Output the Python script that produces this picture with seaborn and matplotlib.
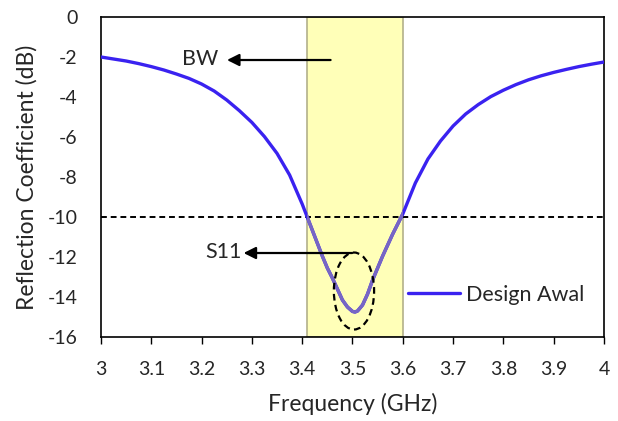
import numpy as np
import pandas as pd
import matplotlib.pyplot as plt
import seaborn as sns
from matplotlib.patches import Rectangle, Ellipse

freq = [3.0, 3.025, 3.05, 3.075, 3.1, 3.125, 3.15, 3.175, 3.2, 3.225, 3.25,
        3.275, 3.3, 3.325, 3.35, 3.375, 3.4, 3.41, 3.42, 3.43, 3.44, 3.45,
        3.46, 3.47, 3.48, 3.49, 3.5, 3.505, 3.51, 3.52, 3.53, 3.54, 3.55,
        3.56, 3.57, 3.58, 3.59, 3.6, 3.625, 3.65, 3.675, 3.7, 3.725, 3.75,
        3.775, 3.8, 3.825, 3.85, 3.875, 3.9, 3.925, 3.95, 3.975, 4.0]
s11 = [-2.0, -2.1, -2.2, -2.33, -2.48, -2.65, -2.85, -3.07, -3.35, -3.7,
       -4.15, -4.68, -5.27, -5.98, -6.82, -7.9, -9.35, -10.0, -10.65, -11.3,
       -11.95, -12.55, -13.05, -13.6, -14.15, -14.5, -14.72, -14.75, -14.7,
       -14.4, -13.85, -13.15, -12.55, -11.95, -11.4, -10.85, -10.35, -9.85,
       -8.3, -7.1, -6.2, -5.45, -4.85, -4.38, -3.98, -3.66, -3.38, -3.14,
       -2.94, -2.77, -2.62, -2.48, -2.36, -2.25]
bw_band = [3.41, 3.60]
ref_level = -10
xticks = [3, 3.1, 3.2, 3.3, 3.4, 3.5, 3.6, 3.7, 3.8, 3.9, 4]
yticks = [0, -2, -4, -6, -8, -10, -12, -14, -16]

df = pd.DataFrame({"Frequency": freq, "S11": s11})

sns.set_style("white")
plt.rcParams['font.family'] = ['Lato', 'DejaVu Sans']

fig = plt.figure(figsize=(6.18, 4.21), dpi=100)
ax = fig.add_axes([0.1634, 0.1995, 0.8139, 0.7601])

rect = Rectangle((bw_band[0], -16), bw_band[1] - bw_band[0], 16,
                 facecolor='#FFFFB8', edgecolor='#B3B08A', lw=1.2, zorder=1)
ax.add_patch(rect)

sns.lineplot(data=df, x="Frequency", y="S11", ax=ax, color='#3A22F0',
             lw=2.4, label="Design Awal", zorder=3)
# purple-ish tone of the curve where it sits under the yellow band
inner, = ax.plot(freq, s11, color='#7766C4', lw=2.4, zorder=4)
inner.set_clip_path(rect)

ax.axhline(ref_level, color='black', ls=(0, (3, 2)), lw=1.4, zorder=2)

ax.add_patch(Ellipse((3.503, -13.7), 0.08, 3.85, fill=False,
                     edgecolor='black', ls=(0, (3, 2)), lw=1.6, zorder=5))

ax.annotate("", xy=(3.245, -2.15), xytext=(3.462, -2.15),
            arrowprops=dict(arrowstyle='-|>', color='black', lw=1.6,
                            mutation_scale=18), zorder=6)
ax.text(3.234, -2.1, "BW", ha='right', va='center', fontsize=15.5)
ax.annotate("", xy=(3.278, -11.8), xytext=(3.505, -11.8),
            arrowprops=dict(arrowstyle='-|>', color='black', lw=1.6,
                            mutation_scale=18), zorder=6)
ax.text(3.28, -11.75, "S11", ha='right', va='center', fontsize=15.5)

ax.set_xlim(3, 4)
ax.set_ylim(-16, 0)
ax.set_xticks(xticks)
ax.set_xticklabels([f"{t:g}" for t in xticks], fontsize=14)
ax.set_yticks(yticks)
ax.set_yticklabels([f"{t:g}" for t in yticks], fontsize=14)
ax.tick_params(axis='x', direction='out', length=5, width=1, color='black',
               bottom=True, pad=12)
ax.tick_params(axis='y', length=0, pad=17)
ax.set_xlabel("Frequency (GHz)", fontsize=16.5, labelpad=11)
ax.set_ylabel("Reflection Coefficient (dB)", fontsize=16.5, labelpad=7)
for s in ax.spines.values():
    s.set_color('black')
    s.set_linewidth(1.2)

ax.legend(loc='lower right', frameon=False, fontsize=15.5, handlelength=2.4,
          handletextpad=0.3, bbox_to_anchor=(1.0, 0.04))

fig.savefig("out.png", dpi=100)
